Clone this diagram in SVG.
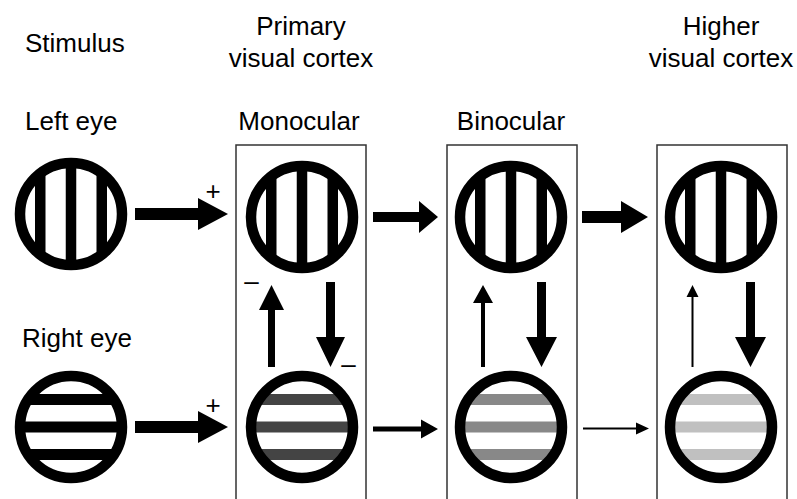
<svg xmlns="http://www.w3.org/2000/svg" width="797" height="499" viewBox="0 0 797 499">
<style>
text{font-family:"Liberation Sans",Arial,sans-serif;font-size:26px;fill:#000}
.ring{fill:none;stroke:#000;stroke-width:10.5}
.box{fill:none;stroke:#333;stroke-width:1.5}
.arr{fill:#000}
</style>
<defs>
<clipPath id="c"><circle cx="0" cy="0" r="52"/></clipPath>
<g id="vert">
<g clip-path="url(#c)" fill="#000">
<rect x="-36" y="-60" width="10.5" height="120"/>
<rect x="-5.25" y="-60" width="10.5" height="120"/>
<rect x="25.5" y="-60" width="10.5" height="120"/>
</g>
<circle class="ring" r="51"/>
</g>
</defs>
<rect width="797" height="499" fill="#fff"/>
<g id="labels">
<text x="25" y="52">Stimulus</text>
<text x="301" y="35" text-anchor="middle">Primary</text>
<text x="301" y="67" text-anchor="middle">visual cortex</text>
<text x="721" y="35" text-anchor="middle">Higher</text>
<text x="721" y="67" text-anchor="middle">visual cortex</text>
<text x="25" y="130">Left eye</text>
<text x="299" y="130" text-anchor="middle">Monocular</text>
<text x="511" y="130" text-anchor="middle">Binocular</text>
<text x="22" y="347">Right eye</text>
</g>
<g id="boxes">
<rect class="box" x="236" y="145" width="130" height="360"/>
<rect class="box" x="447" y="145" width="130" height="360"/>
<rect class="box" x="657" y="145" width="130" height="360"/>
</g>
<g id="left-eye"><use href="#vert" x="71" y="214"/></g>
<g id="right-eye" transform="translate(71,427)">
<g clip-path="url(#c)" fill="#000">
<rect x="-60" y="-33" width="120" height="11"/>
<rect x="-60" y="-5.5" width="120" height="11"/>
<rect x="-60" y="22" width="120" height="11"/>
</g>
<circle class="ring" r="51"/>
</g>
<g id="mono-top"><use href="#vert" x="302" y="217"/></g>
<g id="mono-bottom" transform="translate(302,427)">
<g clip-path="url(#c)" fill="#444">
<rect x="-60" y="-33" width="120" height="11"/>
<rect x="-60" y="-5.5" width="120" height="11"/>
<rect x="-60" y="22" width="120" height="11"/>
</g>
<circle class="ring" r="51"/>
</g>
<g id="bino-top"><use href="#vert" x="511" y="217"/></g>
<g id="bino-bottom" transform="translate(511,427)">
<g clip-path="url(#c)" fill="#888">
<rect x="-60" y="-33" width="120" height="11"/>
<rect x="-60" y="-5.5" width="120" height="11"/>
<rect x="-60" y="22" width="120" height="11"/>
</g>
<circle class="ring" r="51"/>
</g>
<g id="higher-top"><use href="#vert" x="721" y="217"/></g>
<g id="higher-bottom" transform="translate(721,427)">
<g clip-path="url(#c)" fill="#c0c0c0">
<rect x="-60" y="-33" width="120" height="11"/>
<rect x="-60" y="-5.5" width="120" height="11"/>
<rect x="-60" y="22" width="120" height="11"/>
</g>
<circle class="ring" r="51"/>
</g>
<g id="connectors" class="arr">
<polygon points="135,208 198,208 198,198 228,214 198,230 198,220 135,220"/>
<polygon points="135,421 198,421 198,411 228,427 198,443 198,433 135,433"/>
<polygon points="373,212 419,212 419,201 438,217 419,233 419,222 373,222"/>
<polygon points="582,211 621,211 621,201 648,217 621,233 621,223 582,223"/>
<polygon points="373,426.5 421,426.5 421,419.5 438,429 421,438.5 421,431.5 373,431.5"/>
<polygon points="583,427.5 636,427.5 636,422.5 649,428.5 636,434.5 636,429.5 583,429.5"/>
<polygon points="268,367 268,310 259,310 271.5,285 284,310 275,310 275,367"/>
<polygon points="326,282 335,282 335,337 345,337 330.5,367 316,337 326,337"/>
<polygon points="481,367 481,303 473,303 483,285 493,303 485,303 485,367"/>
<polygon points="537,282 546,282 546,337 557,337 541.5,367 526,337 537,337"/>
<polygon points="691.5,367 691.5,297 686.5,297 692.5,285 698.5,297 693.5,297 693.5,367"/>
<polygon points="746,282 755,282 755,337 766,337 750.5,367 735,337 746,337"/>
</g>
<g id="signs">
<text x="213" y="200" text-anchor="middle">+</text>
<text x="213" y="414" text-anchor="middle">+</text>
<text x="251.5" y="290" text-anchor="middle" font-size="30">–</text>
<text x="348.5" y="373" text-anchor="middle" font-size="30">–</text>
</g>
</svg>
